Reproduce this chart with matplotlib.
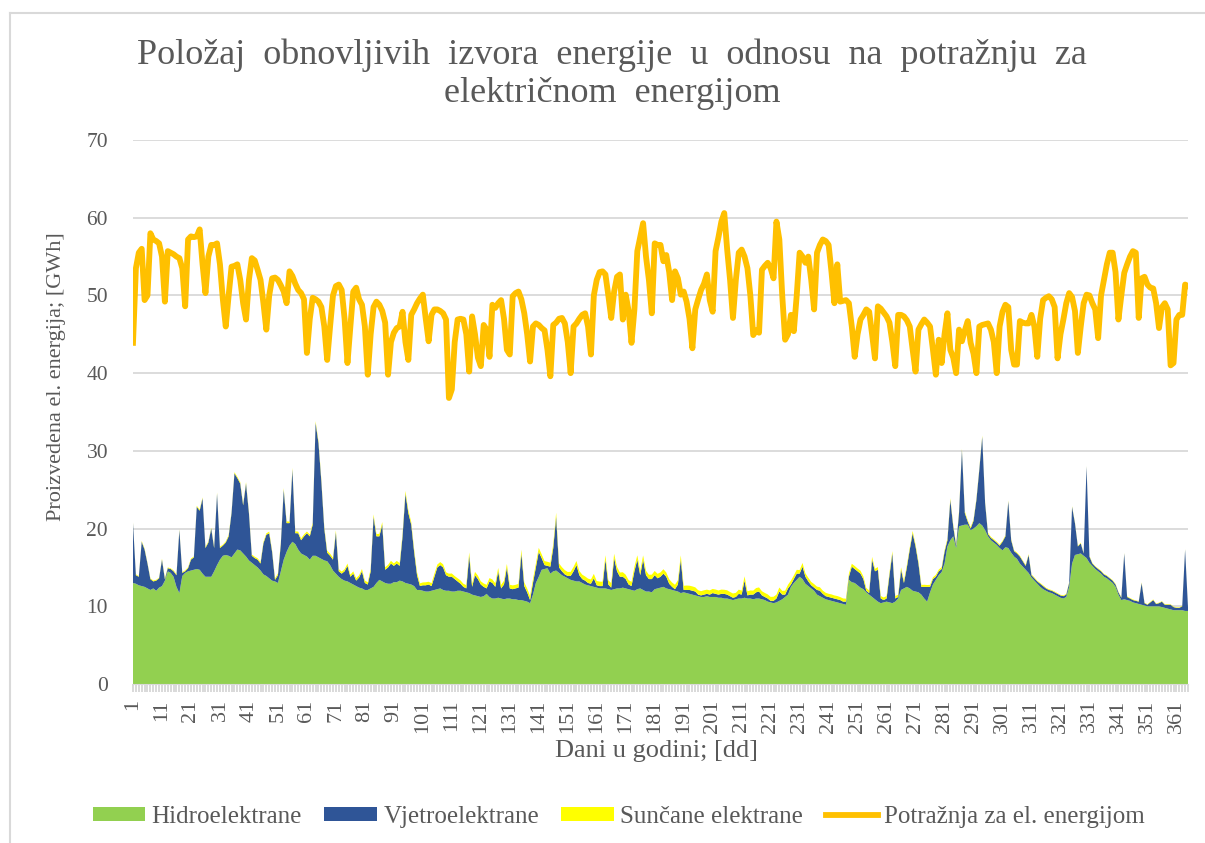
import numpy as np
import matplotlib
matplotlib.use("Agg")
import matplotlib.pyplot as plt
from matplotlib.lines import Line2D

plt.rcParams["font.family"] = ["Liberation Serif", "DejaVu Serif"]

# dnevna potražnja [GWh]
demand = [
    43.9, 53.5, 55.5, 56.0, 49.4, 50.0,
    58.0, 57.2, 57.0, 56.7, 55.0, 49.2,
    55.7, 55.5, 55.3, 55.0, 54.8, 53.5, 48.6,
    57.2, 57.6, 57.5, 57.6, 58.5, 54.0, 50.3,
    55.0, 56.5, 56.5, 56.7, 54.0, 49.5, 46.0,
    50.0, 53.7, 53.8, 54.0, 52.0, 49.0, 46.9,
    52.0, 54.8, 54.5, 53.3, 52.0, 49.0, 45.6,
    50.0, 52.2, 52.3, 52.0, 51.3, 50.5, 49.0,
    53.1, 52.5, 51.5, 50.7, 50.3, 49.5, 42.6,
    47.0, 49.7, 49.5, 49.2, 48.5, 46.0, 41.7,
    46.0, 50.0, 51.2, 51.4, 50.7, 47.0, 41.3,
    46.0, 50.5, 51.0, 49.5, 48.8, 46.0, 39.8,
    45.0, 48.5, 49.2, 48.8, 48.0, 46.5, 39.8,
    44.0, 45.2, 45.8, 46.0, 47.9, 44.0, 41.7,
    47.5, 48.2, 49.0, 49.6, 50.1, 47.0, 44.1,
    47.5, 48.2, 48.2, 48.0, 47.7, 46.9, 36.8,
    37.9, 44.0, 46.9, 47.0, 46.9, 45.0, 40.2,
    47.3, 45.0, 42.0, 40.9, 46.2, 45.6, 42.1,
    48.8, 48.4, 49.0, 49.4, 47.0, 43.0, 42.4,
    49.9, 50.3, 50.5, 49.5, 47.7, 45.0, 41.5,
    46.0, 46.4, 46.2, 45.8, 45.5, 43.0, 39.6,
    46.2, 46.5, 47.0, 47.1, 46.4, 44.0, 40.0,
    46.0, 46.4, 47.0, 47.5, 47.7, 46.0, 42.4,
    50.0, 52.0, 53.0, 53.1, 52.7, 50.0, 47.1,
    50.5, 52.4, 52.7, 46.9, 50.1, 48.0, 43.9,
    48.2, 55.7, 57.5, 59.3, 55.0, 52.0, 47.7,
    56.7, 56.5, 56.5, 54.4, 55.2, 53.0, 49.4,
    53.1, 52.2, 50.1, 50.5, 49.2, 47.0, 43.2,
    48.2, 49.5, 50.7, 51.5, 52.7, 49.4, 47.9,
    55.7, 57.5, 59.5, 60.6, 55.9, 52.0, 47.1,
    52.0, 55.5, 55.9, 55.0, 53.5, 50.0, 44.9,
    45.5, 45.2, 53.3, 53.8, 54.2, 53.5, 52.2,
    59.5, 57.2, 50.0, 44.3, 45.0, 47.5, 45.4,
    50.0, 55.5, 55.0, 54.2, 55.0, 52.0, 48.2,
    55.5, 56.5, 57.2, 57.0, 56.5, 53.0, 49.0,
    54.0, 49.2, 49.3, 49.4, 49.0, 46.0, 42.1,
    45.0, 46.9, 47.5, 48.2, 47.9, 45.0, 41.9,
    48.6, 48.3, 47.8, 47.3, 46.5, 44.0, 40.9,
    47.5, 47.5, 47.3, 46.8, 46.0, 43.0, 40.2,
    45.6, 46.3, 46.9, 46.5, 46.0, 43.0, 39.8,
    44.3, 41.3, 45.0, 47.7, 43.0, 42.0, 40.0,
    45.6, 44.1, 45.5, 46.7, 43.9, 42.5, 40.0,
    46.0, 46.2, 46.3, 46.4, 45.6, 44.0, 40.0,
    46.0, 47.9, 48.8, 48.5, 43.0, 41.1, 41.1,
    46.7, 46.5, 46.4, 46.4, 47.5, 46.0, 42.1,
    47.0, 49.4, 49.7, 49.9, 49.5, 48.5, 41.9,
    45.0, 46.9, 49.0, 50.3, 49.8, 48.0, 42.6,
    46.0, 49.0, 50.1, 50.0, 49.0, 48.2, 44.5,
    50.0, 52.0, 54.0, 55.5, 55.5, 53.0, 46.9,
    50.0, 52.9, 54.0, 55.0, 55.7, 55.5, 47.1,
    52.2, 52.4, 51.4, 51.0, 50.9, 49.0, 45.8,
    48.5, 49.0, 48.2, 41.0, 41.3, 46.9, 47.5, 47.5, 51.4, 51.2,
]

hydro = [
    13.0, 12.9, 12.7, 12.6, 12.5, 12.3, 12.1, 12.3, 12.0, 12.4,
    12.6, 13.3, 14.5, 14.3, 13.8, 12.5, 11.7, 13.9, 14.3, 14.5,
    14.6, 14.7, 14.8, 14.7, 14.2, 13.8, 13.8, 13.8, 14.5, 15.3,
    16.0, 16.5, 16.6, 16.5, 16.3, 16.8, 17.3, 17.2, 16.8, 16.4,
    15.9, 15.6, 15.3, 15.0, 14.6, 14.1, 13.9, 13.6, 13.3, 13.2,
    13.0, 14.5, 16.0, 17.0, 17.8, 18.3, 18.0, 17.3, 16.8, 16.6,
    16.4, 16.0, 16.5, 16.5, 16.3, 16.1, 15.9, 15.8, 15.3, 14.6,
    14.2, 13.8, 13.5, 13.3, 13.2, 13.0, 12.8, 12.6, 12.4, 12.3,
    12.1, 12.1, 12.3, 12.5, 13.0, 13.4, 13.2, 13.0, 12.9, 12.9,
    13.1, 13.1, 13.3, 13.2, 13.0, 12.9, 12.8, 12.6, 12.1, 12.1,
    12.0, 11.9, 11.9, 12.0, 12.1, 12.2, 12.3, 12.1, 12.0, 12.0,
    11.9, 11.9, 12.0, 12.0, 11.9, 11.8, 11.7, 11.5, 11.4, 11.3,
    11.2, 11.3, 11.6, 11.2, 11.0, 11.0, 11.1, 11.0, 10.9, 11.0,
    11.0, 10.9, 10.9, 10.8, 10.8, 10.7, 10.6, 10.4, 11.5, 13.0,
    13.8, 14.7, 14.8, 14.9, 14.2, 14.5, 14.6, 14.3, 14.0, 13.8,
    13.6, 13.4, 13.3, 13.2, 13.2, 13.0, 12.8, 12.7, 12.6, 12.5,
    12.4, 12.3, 12.3, 12.3, 12.2, 12.1, 12.2, 12.3, 12.3, 12.4,
    12.3, 12.2, 12.1, 12.0, 12.2, 12.3, 12.1, 11.9, 11.9, 11.8,
    12.2, 12.3, 12.4, 12.5, 12.3, 12.2, 12.1, 12.0, 11.9, 11.7,
    11.8, 11.7, 11.6, 11.5, 11.4, 11.3, 11.2, 11.2, 11.3, 11.2,
    11.2, 11.2, 11.1, 11.1, 11.0, 11.0, 10.9, 10.8, 10.9, 11.0,
    11.0, 11.1, 11.0, 11.0, 10.9, 11.0, 11.0, 10.9, 10.8, 10.6,
    10.5, 10.4, 10.5, 10.7, 10.9, 11.2, 11.5, 12.5, 13.0, 13.4,
    13.8, 13.5, 12.9, 12.6, 12.3, 12.0, 11.5, 11.3, 11.1, 10.9,
    10.8, 10.7, 10.6, 10.5, 10.4, 10.3, 10.2, 13.4, 13.1, 13.0,
    12.7, 12.4, 12.2, 11.8, 11.5, 11.2, 10.9, 10.6, 10.4, 10.5,
    10.6, 10.5, 10.4, 10.6, 11.0, 12.1, 12.3, 12.5, 12.3, 12.0,
    11.9, 11.8, 11.5, 11.0, 10.6, 11.8, 12.8, 13.4, 14.0, 14.4,
    15.5, 17.7, 18.5, 19.0, 17.5, 20.3, 20.4, 20.5, 20.5, 19.8,
    20.0, 20.3, 20.7, 20.4, 19.8, 19.0, 18.5, 18.2, 17.9, 17.5,
    17.2, 17.6, 17.5, 16.9, 16.4, 16.1, 15.5, 15.1, 14.7, 14.3,
    13.7, 13.3, 12.9, 12.5, 12.2, 12.0, 11.8, 11.7, 11.5, 11.3,
    11.1, 11.0, 11.2, 12.5, 15.5, 16.6, 16.7, 16.8, 16.5, 16.2,
    15.6, 15.2, 14.8, 14.5, 14.2, 13.8, 13.6, 13.3, 13.0, 12.5,
    11.5, 10.8, 10.9, 10.8, 10.7, 10.5, 10.4, 10.3, 10.2, 10.1,
    10.0, 10.0, 10.0, 10.0, 10.0, 9.9, 9.8, 9.7, 9.6, 9.5,
    9.5, 9.5, 9.5, 9.4, 9.4,
]

wind = [
    7.7, 1.1, 1.1, 5.7, 4.8, 3.2, 1.4, 0.9, 1.3, 1.2,
    3.4, 0.2, 0.4, 0.5, 0.7, 1.5, 8.1, 0.4, 0.2, 0.4,
    1.4, 1.6, 8.0, 7.6, 9.7, 3.7, 4.4, 6.2, 3.0, 9.2,
    1.5, 1.3, 1.6, 2.5, 5.7, 10.3, 9.2, 8.6, 6.2, 9.4,
    6.1, 0.9, 0.9, 1.0, 0.9, 4.0, 5.3, 5.8, 3.7, 0.2,
    1.0, 3.5, 9.0, 3.7, 2.9, 9.3, 1.4, 2.1, 1.7, 2.4,
    3.0, 3.0, 4.0, 17.1, 14.7, 9.9, 4.1, 1.1, 1.2, 1.4,
    5.3, 0.7, 0.7, 1.2, 2.0, 0.8, 1.4, 0.7, 1.3, 2.2,
    0.9, 0.7, 2.2, 9.0, 6.0, 5.6, 7.3, 1.7, 2.1, 2.6,
    2.1, 2.4, 1.9, 5.8, 11.5, 9.1, 7.7, 4.4, 1.9, 0.5,
    0.7, 0.8, 0.9, 0.6, 1.7, 2.8, 3.0, 2.9, 2.0, 1.8,
    1.9, 1.6, 1.2, 0.9, 0.6, 0.5, 4.8, 1.0, 2.6, 2.2,
    1.6, 1.2, 0.7, 2.0, 2.0, 1.5, 3.4, 1.3, 1.9, 4.0,
    1.3, 1.3, 1.4, 1.6, 6.0, 1.9, 1.2, 0.4, 1.5, 2.0,
    3.2, 1.5, 0.5, 0.3, 0.9, 3.0, 6.9, 0.7, 0.5, 0.3,
    0.3, 0.5, 1.2, 2.1, 0.8, 0.5, 0.5, 0.3, 0.3, 1.1,
    0.3, 0.3, 0.3, 3.7, 0.6, 0.3, 4.0, 2.2, 1.5, 1.4,
    1.2, 0.6, 0.5, 2.5, 3.8, 1.7, 3.9, 2.1, 1.6, 1.7,
    1.8, 1.3, 1.4, 1.7, 1.5, 0.7, 0.4, 0.2, 0.9, 4.3,
    0.3, 0.4, 0.5, 0.5, 0.5, 0.2, 0.2, 0.3, 0.3, 0.3,
    0.5, 0.4, 0.4, 0.5, 0.6, 0.5, 0.4, 0.3, 0.3, 0.6,
    0.5, 2.2, 0.4, 0.5, 0.6, 0.8, 0.9, 0.5, 0.4, 0.4,
    0.2, 0.3, 0.5, 1.2, 0.6, 0.3, 0.8, 0.3, 0.5, 0.8,
    0.4, 1.6, 0.9, 0.6, 0.4, 0.4, 0.6, 0.7, 0.5, 0.4,
    0.4, 0.4, 0.4, 0.4, 0.4, 0.3, 0.4, 0.4, 2.0, 1.8,
    1.8, 1.8, 1.3, 0.2, 0.2, 4.8, 3.6, 4.1, 0.6, 0.3,
    0.4, 3.5, 6.4, 0.4, 0.2, 2.6, 0.7, 2.5, 5.0, 7.4,
    5.8, 3.7, 1.0, 1.5, 1.9, 0.7, 0.7, 0.4, 0.5, 0.4,
    1.5, 0.8, 5.2, 1.3, 0.3, 1.7, 9.7, 1.5, 0.4, 0.2,
    1.0, 3.4, 6.9, 11.4, 3.5, 0.3, 0.3, 0.3, 0.3, 0.3,
    1.1, 1.4, 6.0, 1.6, 0.7, 0.7, 0.9, 0.7, 0.5, 2.3,
    0.3, 0.3, 0.3, 0.4, 0.4, 0.3, 0.3, 0.3, 0.3, 0.3,
    0.3, 0.3, 0.3, 0.5, 7.3, 4.1, 1.0, 1.3, 0.3, 11.8,
    0.8, 0.3, 0.3, 0.3, 0.3, 0.3, 0.3, 0.3, 0.3, 0.3,
    0.3, 0.3, 5.9, 0.4, 0.3, 0.3, 0.3, 0.3, 2.8, 0.3,
    0.2, 0.5, 0.8, 0.3, 0.4, 0.7, 0.4, 0.5, 0.6, 0.4,
    0.3, 0.3, 0.5, 7.9, 0.5,
]

solar = [
    0.10, 0.12, 0.08, 0.11, 0.13, 0.09, 0.10, 0.12, 0.11, 0.08,
    0.12, 0.13, 0.10, 0.09, 0.12, 0.14, 0.11, 0.10, 0.13, 0.12,
    0.14, 0.11, 0.13, 0.15, 0.12, 0.14, 0.13, 0.11, 0.15, 0.14,
    0.16, 0.13, 0.15, 0.17, 0.14, 0.16, 0.15, 0.18, 0.16, 0.17,
    0.18, 0.16, 0.19, 0.17, 0.20, 0.18, 0.19, 0.21, 0.18, 0.20,
    0.22, 0.19, 0.21, 0.23, 0.20, 0.22, 0.24, 0.21, 0.23, 0.25,
    0.22, 0.24, 0.26, 0.23, 0.25, 0.27, 0.24, 0.26, 0.28, 0.25,
    0.27, 0.29, 0.26, 0.28, 0.30, 0.27, 0.29, 0.31, 0.28, 0.30,
    0.32, 0.29, 0.31, 0.33, 0.30, 0.32, 0.34, 0.31, 0.33, 0.35,
    0.32, 0.34, 0.36, 0.33, 0.35, 0.37, 0.34, 0.36, 0.38, 0.35,
    0.37, 0.39, 0.36, 0.38, 0.40, 0.37, 0.39, 0.41, 0.38, 0.40,
    0.42, 0.39, 0.41, 0.43, 0.40, 0.42, 0.44, 0.41, 0.43, 0.45,
    0.42, 0.44, 0.46, 0.43, 0.45, 0.47, 0.44, 0.46, 0.48, 0.45,
    0.47, 0.49, 0.46, 0.48, 0.50, 0.47, 0.49, 0.51, 0.48, 0.50,
    0.52, 0.49, 0.51, 0.53, 0.50, 0.52, 0.54, 0.51, 0.53, 0.55,
    0.52, 0.54, 0.56, 0.53, 0.55, 0.57, 0.54, 0.56, 0.55, 0.57,
    0.55, 0.58, 0.56, 0.57, 0.55, 0.58, 0.56, 0.57, 0.55, 0.58,
    0.56, 0.57, 0.55, 0.58, 0.56, 0.57, 0.55, 0.58, 0.56, 0.57,
    0.55, 0.58, 0.56, 0.57, 0.55, 0.58, 0.56, 0.57, 0.55, 0.56,
    0.54, 0.57, 0.55, 0.56, 0.54, 0.57, 0.55, 0.56, 0.54, 0.55,
    0.53, 0.56, 0.54, 0.55, 0.53, 0.56, 0.54, 0.55, 0.53, 0.54,
    0.52, 0.55, 0.53, 0.54, 0.52, 0.55, 0.53, 0.54, 0.52, 0.53,
    0.51, 0.53, 0.50, 0.52, 0.49, 0.51, 0.48, 0.50, 0.47, 0.49,
    0.46, 0.48, 0.45, 0.47, 0.44, 0.46, 0.43, 0.45, 0.42, 0.44,
    0.41, 0.43, 0.40, 0.42, 0.39, 0.41, 0.38, 0.40, 0.37, 0.39,
    0.36, 0.38, 0.35, 0.37, 0.34, 0.36, 0.33, 0.35, 0.32, 0.34,
    0.31, 0.33, 0.30, 0.32, 0.29, 0.31, 0.28, 0.30, 0.27, 0.29,
    0.26, 0.28, 0.25, 0.27, 0.24, 0.26, 0.23, 0.25, 0.22, 0.24,
    0.21, 0.23, 0.20, 0.22, 0.19, 0.21, 0.18, 0.20, 0.17, 0.19,
    0.16, 0.18, 0.15, 0.17, 0.14, 0.16, 0.13, 0.15, 0.12, 0.14,
    0.12, 0.13, 0.11, 0.12, 0.10, 0.12, 0.11, 0.10, 0.12, 0.11,
    0.10, 0.11, 0.09, 0.10, 0.11, 0.09, 0.10, 0.08, 0.10, 0.09,
    0.08, 0.10, 0.09, 0.08, 0.09, 0.10, 0.08, 0.09, 0.07, 0.08,
    0.09, 0.08, 0.07, 0.08, 0.09, 0.07, 0.08, 0.07, 0.08, 0.09,
    0.07, 0.08, 0.07, 0.08, 0.07, 0.08, 0.06, 0.07, 0.08, 0.07,
    0.06, 0.07, 0.08, 0.06, 0.07, 0.06, 0.07, 0.08, 0.06, 0.07,
    0.07, 0.06, 0.08, 0.07, 0.06,
]

series_names = ["Hidroelektrane", "Vjetroelektrane", "Sunčane elektrane",
                "Potražnja za el. energijom"]
colors = ["#92D050", "#2F5597", "#FFFF00", "#FFC000"]

lens = [len(demand), len(hydro), len(wind), len(solar)]
if len(set(lens)) != 1:
    raise ValueError("lengths differ: %s" % lens)

days = np.arange(1, len(demand) + 1)
gray = "#595959"

fig = plt.figure(figsize=(12.05, 8.43), dpi=100)
ax = fig.add_axes([133 / 1205, 1 - 684 / 843, (1188 - 133) / 1205, (684 - 140) / 843])

polys = ax.stackplot(days, hydro, wind, solar, colors=colors[:3],
                     labels=series_names[:3], linewidth=0)
line, = ax.plot(days, demand, color=colors[3], lw=4.2,
                solid_joinstyle="round", label=series_names[3])

ax.set_xlim(1, 365)
ax.set_ylim(0, 70)
ax.set_yticks(range(0, 71, 10))
ax.grid(axis="y", color="#D9D9D9", lw=1.3)
ax.set_axisbelow(True)
for s in ["top", "right", "left"]:
    ax.spines[s].set_visible(False)
ax.spines["bottom"].set_color("#D9D9D9")

ax.set_xticks(range(1, 366, 10))
ax.set_xticklabels([str(d) for d in range(1, 366, 10)], rotation=90)
ax.set_xticks(days, minor=True)
ax.tick_params(axis="x", which="both", length=6, width=1.4, color="#D9D9D9",
               labelsize=16, labelcolor=gray, pad=5)
ax.tick_params(axis="y", length=0, labelsize=15.5, labelcolor=gray, pad=18)

fig.text(612 / 1205, 1 - 55 / 843,
         "Položaj  obnovljivih  izvora  energije  u  odnosu  na  potražnju  za",
         ha="center", va="center", fontsize=26, color=gray)
fig.text(612 / 1205, 1 - 94 / 843, "električnom  energijom",
         ha="center", va="center", fontsize=26, color=gray)

fig.text(657 / 1205, 1 - 751 / 843, "Dani u godini; [dd]",
         ha="center", va="center", fontsize=19, color=gray)
fig.text(57 / 1205, 1 - 377 / 843, "Proizvedena el. energija; [GWh]",
         ha="center", va="center", rotation=90, fontsize=16, color=gray)

leg = fig.legend(handles=list(polys) + [line], labels=series_names, ncol=4,
                 loc="center", bbox_to_anchor=(619 / 1205, 1 - 817 / 843),
                 frameon=False, fontsize=18, handlelength=2.1,
                 handleheight=0.5, handletextpad=0.25, columnspacing=0.9)
for t in leg.get_texts():
    t.set_color(gray)

# okvir grafikona
fig.add_artist(Line2D([10 / 1205, 10 / 1205], [0, 1 - 13 / 843],
                      transform=fig.transFigure, color="#D9D9D9", lw=1.5))
fig.add_artist(Line2D([10 / 1205, 1], [1 - 13 / 843, 1 - 13 / 843],
                      transform=fig.transFigure, color="#D9D9D9", lw=1.5))

fig.savefig("out.png", dpi=100)
